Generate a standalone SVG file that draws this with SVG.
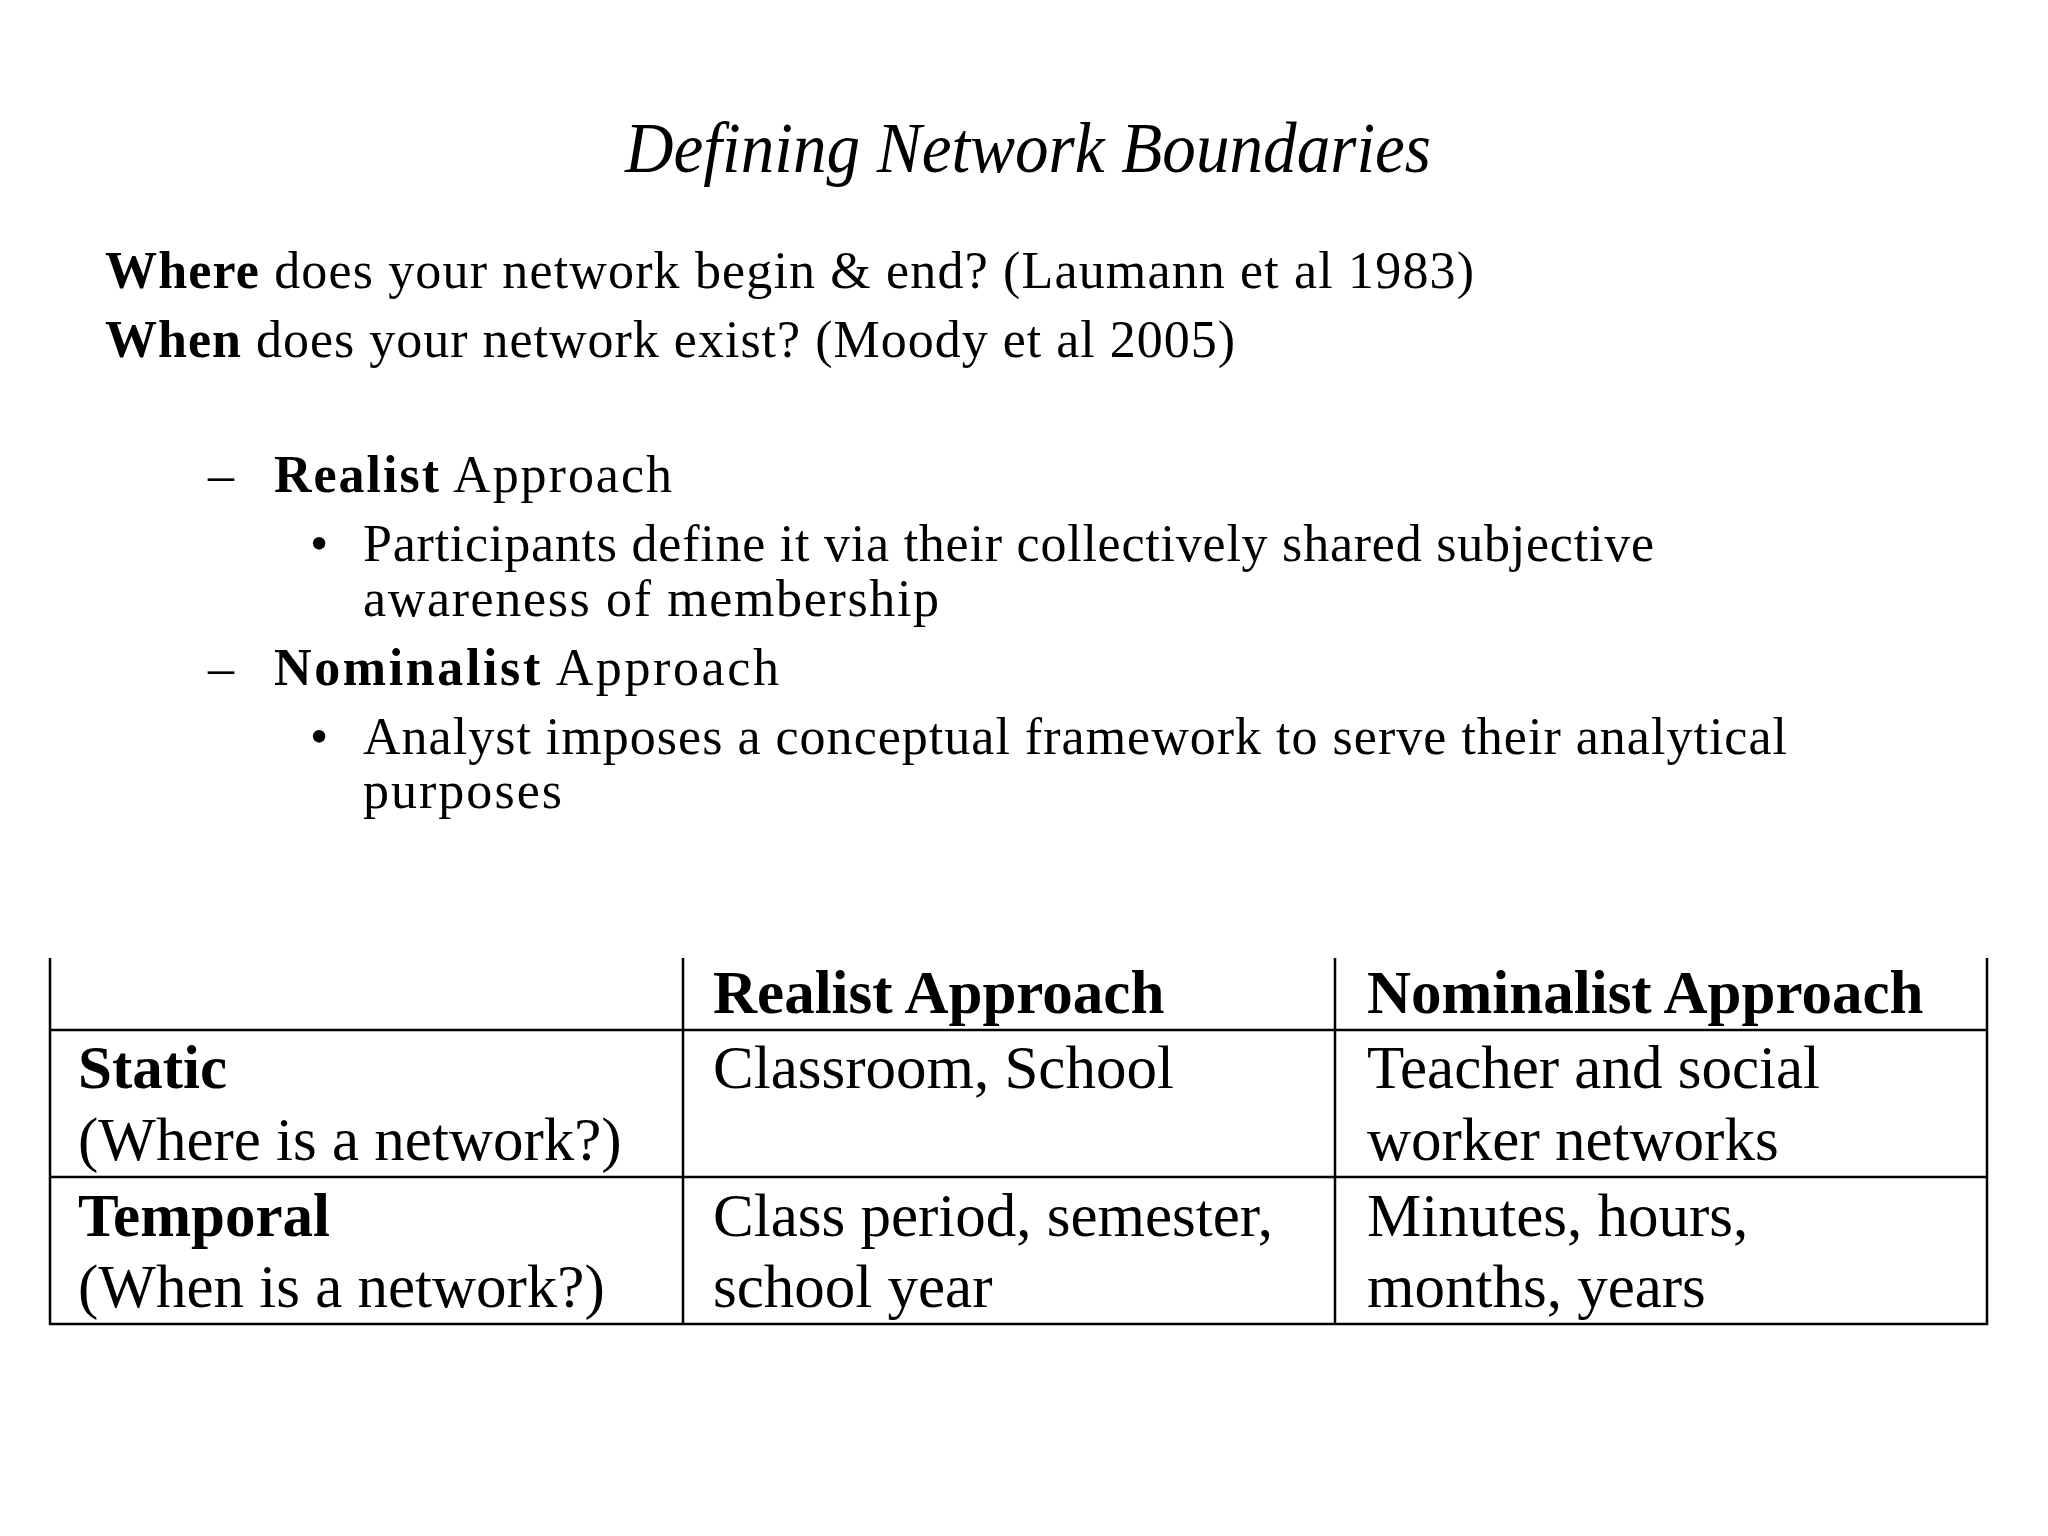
<svg xmlns="http://www.w3.org/2000/svg" width="2048" height="1536" viewBox="0 0 2048 1536">
<style>
.t{font-family:"Liberation Serif",serif;fill:#000}
.b{font-size:52px}
.tb{font-size:61px}
.g{stroke:#000;stroke-width:2.5;fill:none}
</style>
<rect width="2048" height="1536" fill="#fff"/>
<g id="title"><text class="t" x="1028" y="172" font-size="72" font-style="italic" text-anchor="middle" textLength="806" lengthAdjust="spacingAndGlyphs">Defining Network Boundaries</text></g>
<g id="body">
<text class="t b" x="105" y="288" textLength="1369"><tspan font-weight="bold">Where</tspan> does your network begin &amp; end? (Laumann et al 1983)</text>
<text class="t b" x="105" y="357" textLength="1130"><tspan font-weight="bold">When</tspan> does your network exist? (Moody et al 2005)</text>
<text class="t b" x="208" y="492">–</text>
<text class="t b" x="274" y="492" textLength="398"><tspan font-weight="bold">Realist</tspan> Approach</text>
<text class="t b" x="310" y="561">•</text>
<text class="t b" x="363" y="561" textLength="1291">Participants define it via their collectively shared subjective</text>
<text class="t b" x="363" y="616" textLength="576">awareness of  membership</text>
<text class="t b" x="208" y="685">–</text>
<text class="t b" x="274" y="685" textLength="505"><tspan font-weight="bold">Nominalist</tspan> Approach</text>
<text class="t b" x="310" y="754">•</text>
<text class="t b" x="363" y="754" textLength="1424">Analyst imposes a conceptual framework to serve their analytical</text>
<text class="t b" x="363" y="808" textLength="199">purposes</text>
</g>
<g id="table">
<path class="g" d="M50 958V1324H1987V958M683 958V1324M1335 958V1324M50 1030H1987M50 1177H1987"/>
<text class="t tb" x="713" y="1013" font-weight="bold">Realist Approach</text>
<text class="t tb" x="1367" y="1013" font-weight="bold">Nominalist Approach</text>
<text class="t tb" x="78" y="1088" font-weight="bold">Static</text>
<text class="t tb" x="78" y="1160">(Where is a network?)</text>
<text class="t tb" x="713" y="1088">Classroom, School</text>
<text class="t tb" x="1367" y="1088">Teacher and social</text>
<text class="t tb" x="1367" y="1160">worker networks</text>
<text class="t tb" x="78" y="1236" font-weight="bold">Temporal</text>
<text class="t tb" x="78" y="1307">(When is a network?)</text>
<text class="t tb" x="713" y="1236">Class period, semester,</text>
<text class="t tb" x="713" y="1307">school year</text>
<text class="t tb" x="1367" y="1236">Minutes, hours,</text>
<text class="t tb" x="1367" y="1307">months, years</text>
</g>
</svg>
